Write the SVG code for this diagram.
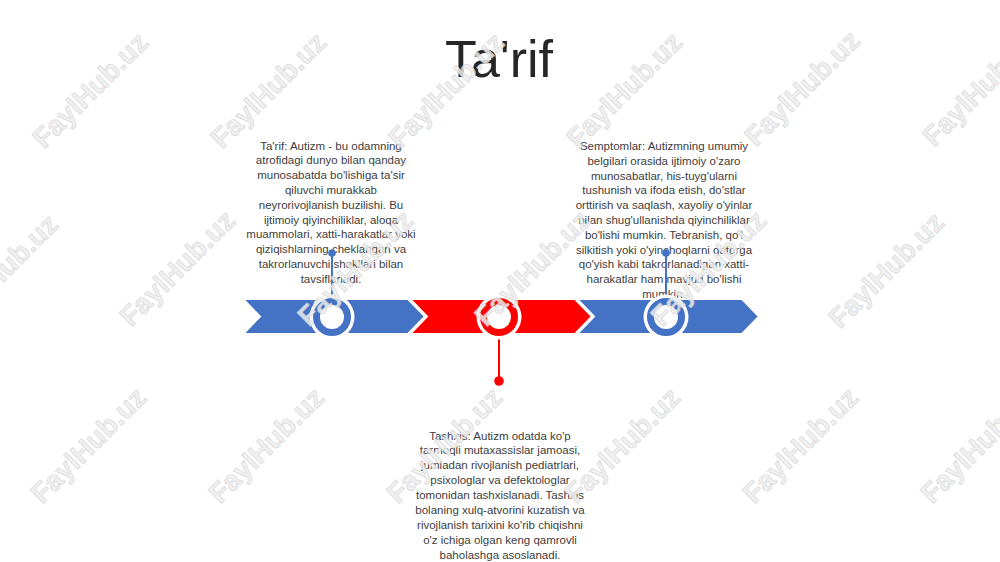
<svg xmlns="http://www.w3.org/2000/svg" width="1000" height="562" viewBox="0 0 1000 562">
  <style>
    .title { font-family: "Liberation Sans", Arial, sans-serif; font-size: 52px; fill: #262626; text-anchor: middle; }
    .body { font-family: "Liberation Sans", Arial, sans-serif; font-size: 11.5px; fill: #404040; text-anchor: middle; }
    .chev { stroke: #ffffff; stroke-width: 2; stroke-linejoin: miter; }
    .blue { fill: #4472C4; }
    .red { fill: #FF0000; }
    .ringB { fill: #ffffff; stroke: #4472C4; stroke-width: 7; }
    .ringR { fill: #ffffff; stroke: #FF0000; stroke-width: 7; }
    .halo { fill: #ffffff; }
    .wm { font-family: "Liberation Sans", Arial, sans-serif; font-weight: bold; font-size: 28px; fill: #eeeeee; stroke: #d4d4d4; stroke-width: 0.7; text-anchor: middle; opacity: 0.85; }
  </style>
  <rect width="1000" height="562" fill="#ffffff"/>

  <g id="title">
    <text class="title" x="499" y="77">Ta'rif</text>
  </g>

  <g id="node-tarif-text">
    <text class="body" x="331" y="149.5">Ta'rif: Autizm - bu odamning</text>
    <text class="body" x="331" y="164.3">atrofidagi dunyo bilan qanday</text>
    <text class="body" x="331" y="179.1">munosabatda bo'lishiga ta'sir</text>
    <text class="body" x="331" y="193.9">qiluvchi murakkab</text>
    <text class="body" x="331" y="208.7">neyrorivojlanish buzilishi. Bu</text>
    <text class="body" x="331" y="223.5">ijtimoiy qiyinchiliklar, aloqa</text>
    <text class="body" x="331" y="238.3">muammolari, xatti-harakatlar yoki</text>
    <text class="body" x="331" y="253.1">qiziqishlarning cheklangan va</text>
    <text class="body" x="331" y="267.9">takrorlanuvchi shakllari bilan</text>
    <text class="body" x="331" y="282.7">tavsiflanadi.</text>
  </g>

  <g id="node-semptomlar-text">
    <text class="body" x="664" y="150">Semptomlar: Autizmning umumiy</text>
    <text class="body" x="664" y="164.8">belgilari orasida ijtimoiy o'zaro</text>
    <text class="body" x="664" y="179.6">munosabatlar, his-tuyg'ularni</text>
    <text class="body" x="664" y="194.4">tushunish va ifoda etish, do'stlar</text>
    <text class="body" x="664" y="209.2">orttirish va saqlash, xayoliy o'yinlar</text>
    <text class="body" x="664" y="224">bilan shug'ullanishda qiyinchiliklar</text>
    <text class="body" x="664" y="238.8">bo'lishi mumkin. Tebranish, qo'l</text>
    <text class="body" x="664" y="253.6">silkitish yoki o'yinchoqlarni qatorga</text>
    <text class="body" x="664" y="268.4">qo'yish kabi takrorlanadigan xatti-</text>
    <text class="body" x="664" y="283.2">harakatlar ham mavjud bo'lishi</text>
    <text class="body" x="664" y="298">mumkin.</text>
  </g>

  <g id="node-tashxis-text">
    <text class="body" x="500" y="439.5">Tashxis: Autizm odatda ko'p</text>
    <text class="body" x="500" y="454.4">tarmoqli mutaxassislar jamoasi,</text>
    <text class="body" x="500" y="469.3">jumladan rivojlanish pediatrlari,</text>
    <text class="body" x="500" y="484.2">psixologlar va defektologlar</text>
    <text class="body" x="500" y="499.1">tomonidan tashxislanadi. Tashxis</text>
    <text class="body" x="500" y="514">bolaning xulq-atvorini kuzatish va</text>
    <text class="body" x="500" y="528.9">rivojlanish tarixini ko'rib chiqishni</text>
    <text class="body" x="500" y="543.8">o'z ichiga olgan keng qamrovli</text>
    <text class="body" x="500" y="558.7">baholashga asoslanadi.</text>
  </g>

  <g id="band">
    <polygon id="chevron-1" class="chev blue" points="243,299 408,299 425,316.5 408,334 243,334 260,316.5"/>
    <polygon id="chevron-2" class="chev red" points="410,299 575,299 592,316.5 575,334 410,334 427,316.5"/>
    <polygon id="chevron-3" class="chev blue" points="577,299 742,299 759,316.5 742,334 577,334 594,316.5"/>
  </g>

  <g id="connectors">
    <line x1="332" y1="253" x2="332" y2="298" stroke="#4472C4" stroke-width="2"/>
    <circle cx="332" cy="253" r="3.8" fill="#4472C4"/>
    <line x1="499" y1="338" x2="499" y2="381" stroke="#FF0000" stroke-width="2"/>
    <circle cx="499" cy="381" r="4.8" fill="#FF0000"/>
    <line x1="666" y1="253" x2="666" y2="298" stroke="#4472C4" stroke-width="2"/>
    <circle cx="666" cy="253" r="3.8" fill="#4472C4"/>
  </g>

  <g id="node-tarif">
    <circle class="halo" cx="332" cy="317" r="22.5"/>
    <circle class="ringB" cx="332" cy="317" r="15.5"/>
  </g>
  <g id="node-tashxis">
    <circle class="halo" cx="499" cy="317" r="22.5"/>
    <circle class="ringR" cx="499" cy="317" r="15.5"/>
  </g>
  <g id="node-semptomlar">
    <circle class="halo" cx="666" cy="317" r="22.5"/>
    <circle class="ringB" cx="666" cy="317" r="15.5"/>
  </g>

  <g id="watermarks">
    <text class="wm" transform="translate(90,90) rotate(-45)" y="10">FaylHub.uz</text>
    <text class="wm" transform="translate(268,90) rotate(-45)" y="10">FaylHub.uz</text>
    <text class="wm" transform="translate(446,90) rotate(-45)" y="10">FaylHub.uz</text>
    <text class="wm" transform="translate(624,90) rotate(-45)" y="10">FaylHub.uz</text>
    <text class="wm" transform="translate(802,88) rotate(-45)" y="10">FaylHub.uz</text>
    <text class="wm" transform="translate(980,88) rotate(-45)" y="10">FaylHub.uz</text>
    <text class="wm" transform="translate(0,272) rotate(-45)" y="10">FaylHub.uz</text>
    <text class="wm" transform="translate(177,268) rotate(-45)" y="10">FaylHub.uz</text>
    <text class="wm" transform="translate(355,268) rotate(-45)" y="10">FaylHub.uz</text>
    <text class="wm" transform="translate(532,268) rotate(-45)" y="10">FaylHub.uz</text>
    <text class="wm" transform="translate(708,268) rotate(-45)" y="10">FaylHub.uz</text>
    <text class="wm" transform="translate(886,270) rotate(-45)" y="10">FaylHub.uz</text>
    <text class="wm" transform="translate(88,445) rotate(-45)" y="10">FaylHub.uz</text>
    <text class="wm" transform="translate(266,445) rotate(-45)" y="10">FaylHub.uz</text>
    <text class="wm" transform="translate(444,445) rotate(-45)" y="10">FaylHub.uz</text>
    <text class="wm" transform="translate(622,445) rotate(-45)" y="10">FaylHub.uz</text>
    <text class="wm" transform="translate(800,445) rotate(-45)" y="10">FaylHub.uz</text>
    <text class="wm" transform="translate(978,445) rotate(-45)" y="10">FaylHub.uz</text>
  </g>
</svg>
